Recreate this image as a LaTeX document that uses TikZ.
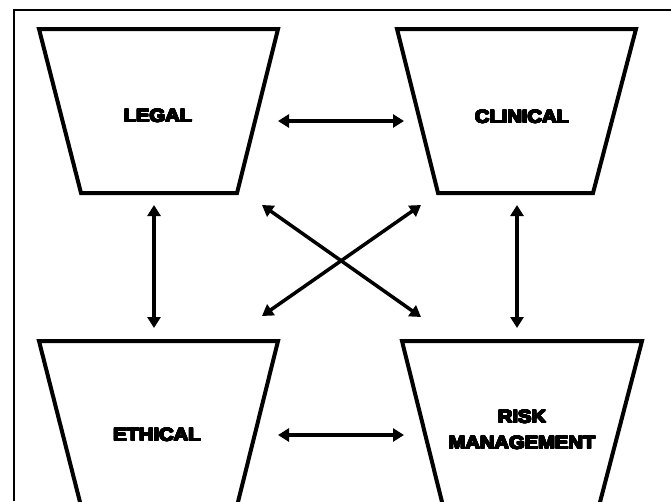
\documentclass[tikz,border=0pt]{standalone}
\usepackage{fontspec}
\usepackage[copies]{contour}
\contourlength{0.6pt}
\contournumber{24}
\newfontfamily\heavy{Liberation Sans Bold}
\newcommand{\blk}[1]{\scalebox{1.12}[1]{\contour{black}{#1}}}
\usetikzlibrary{arrows.meta}
\begin{document}
\begin{tikzpicture}[x=1pt,y=-1pt,
  trap/.style={line width=4pt,line join=miter},
  lbl/.style={font=\heavy\fontsize{18}{26}\selectfont,align=center,inner sep=0pt},
  link/.style={line width=3.5pt,{Triangle[length=11pt,width=13pt]}-{Triangle[length=11pt,width=13pt]}}]
\useasboundingbox (0,0) rectangle (671,501);
\clip (0,0) rectangle (671,501);
\draw[line width=1.2pt] (14,501) -- (14,10) -- (671,10);
% trapezoids
\draw[trap] (39,29) -- (278,29) -- (237,193) -- (81,193) -- cycle;
\draw[trap] (397,29) -- (636,29) -- (593,193) -- (438,193) -- cycle;
\draw[trap] (39,341) -- (278,341) -- (237,506) -- (81,506) -- cycle;
\draw[trap] (402,341) -- (642,341) -- (599,506) -- (443,506) -- cycle;
% labels
\node[lbl] (legal) at (158,116) {\blk{LEGAL}};
\node[lbl] (clinical) at (522,117) {\blk{CLINICAL}};
\node[lbl] (ethical) at (157,435) {\blk{ETHICAL}};
\node[lbl] (risk) at (522,430) {\blk{RISK}\\\blk{MANAGEMENT}};
% arrow ends
\coordinate (lr) at (278,121);
\coordinate (cl) at (404,121);
\coordinate (er) at (278,435);
\coordinate (rl) at (404,435);
\coordinate (lb) at (154,205);
\coordinate (et) at (154,328);
\coordinate (cb) at (517,205);
\coordinate (rt) at (517,328);
\coordinate (ld) at (262,205);
\coordinate (rd) at (421,317);
\coordinate (cd) at (421,205);
\coordinate (ed) at (262,316);
\draw[link] (lr) -- (cl);
\draw[link] (er) -- (rl);
\draw[link] (lb) -- (et);
\draw[link] (cb) -- (rt);
\draw[link] (ld) -- (rd);
\draw[link] (cd) -- (ed);
\end{tikzpicture}
\end{document}
